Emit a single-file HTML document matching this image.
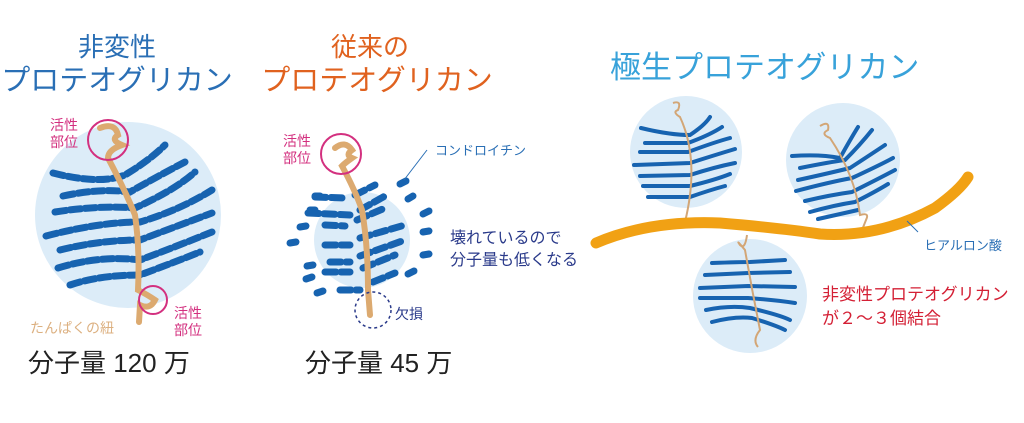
<!DOCTYPE html>
<html><head><meta charset="utf-8"><style>
html,body{margin:0;padding:0;background:#fff;}
svg{display:block;font-family:"Liberation Sans","Noto Sans CJK JP",sans-serif;}
</style></head><body>
<svg width="1024" height="423" viewBox="0 0 1024 423" xmlns="http://www.w3.org/2000/svg">
<!-- LEFT -->
<text x="117" y="56" font-size="26" fill="#2a6fb5" text-anchor="middle">非変性</text>
<text x="117" y="90" font-size="29" fill="#2a6fb5" text-anchor="middle">プロテオグリカン</text>
<circle cx="128" cy="215" r="93" fill="#dcecf8"/>
<g stroke="#1763b0" stroke-width="7" fill="none" stroke-linecap="round" stroke-dasharray="11 4">
<path d="M53 173 Q100 185 125 175 Q150 160 165 145"/>
<path d="M63 196 Q100 188 130 192 Q160 175 185 162"/>
<path d="M55 212 Q100 205 135 208 Q175 190 195 172"/>
<path d="M46 236 Q100 222 140 222 Q180 210 212 190"/>
<path d="M60 250 Q100 240 140 240 Q180 225 212 213"/>
<path d="M58 268 Q100 255 140 260 Q180 245 212 232"/>
<path d="M70 285 Q100 275 140 275 Q175 262 200 252"/>
</g>
<path d="M100 128 Q115 122 118 135 Q110 140 122 145 Q108 150 108 158 Q125 190 135 215 Q140 250 138 290 Q148 295 155 300 Q150 310 140 305 L139 322" stroke="#dcaa70" stroke-width="6" fill="none" stroke-linecap="round"/>
<circle cx="108" cy="140" r="20" fill="none" stroke="#d3307f" stroke-width="2"/>
<circle cx="153" cy="300" r="14" fill="none" stroke="#d3307f" stroke-width="2"/>
<text x="50" y="130" font-size="14" fill="#d3307f">活性</text>
<text x="50" y="147" font-size="14" fill="#d3307f">部位</text>
<text x="174" y="318" font-size="14" fill="#d3307f">活性</text>
<text x="174" y="335" font-size="14" fill="#d3307f">部位</text>
<text x="30" y="333" font-size="14" fill="#dcb080">たんぱくの紐</text>
<text x="28" y="372" font-size="26" fill="#222">分子量 120 万</text>

<!-- MIDDLE -->
<text x="370" y="56" font-size="26" fill="#e0621f" text-anchor="middle">従来の</text>
<text x="377" y="90" font-size="29" fill="#e0621f" text-anchor="middle">プロテオグリカン</text>
<circle cx="362" cy="240" r="48" fill="#dcecf8"/>
<g stroke="#1763b0" stroke-width="7" fill="none" stroke-linecap="round" stroke-dasharray="11 5">
<path d="M315 197 L345 198 M355 195 L375 185"/>
<path d="M308 213 L350 215 M360 210 L385 196"/>
<path d="M325 225 L345 226 M357 220 L385 208"/>
<path d="M325 245 L350 245 M360 238 L405 225"/>
<path d="M330 262 L350 262 M360 256 L405 240"/>
<path d="M325 272 L350 272 M363 268 L395 255"/>
<path d="M340 290 L360 290 M373 282 L395 273"/>
</g>
<g stroke="#1763b0" stroke-width="7" stroke-linecap="round">
<line x1="315" y1="196" x2="320" y2="196"/><line x1="310" y1="210" x2="315" y2="210"/>
<line x1="290" y1="243" x2="296" y2="242"/><line x1="300" y1="227" x2="306" y2="226"/>
<line x1="307" y1="266" x2="313" y2="265"/><line x1="306" y1="279" x2="312" y2="277"/>
<line x1="317" y1="293" x2="323" y2="291"/>
<line x1="400" y1="184" x2="406" y2="181"/><line x1="408" y1="199" x2="413" y2="196"/>
<line x1="423" y1="214" x2="429" y2="211"/><line x1="423" y1="232" x2="429" y2="231"/>
<line x1="423" y1="255" x2="429" y2="254"/><line x1="408" y1="274" x2="414" y2="271"/>
</g>
<path d="M335 148 Q345 140 352 150 Q345 155 352 158 Q345 163 342 166 Q355 190 362 210 Q368 245 368 290 L370 315" stroke="#dcaa70" stroke-width="6" fill="none" stroke-linecap="round"/>
<circle cx="341" cy="154" r="20" fill="none" stroke="#d3307f" stroke-width="2"/>
<circle cx="373" cy="310" r="18" fill="none" stroke="#2a3a8a" stroke-width="1.5" stroke-dasharray="3 3"/>
<text x="283" y="146" font-size="14" fill="#d3307f">活性</text>
<text x="283" y="163" font-size="14" fill="#d3307f">部位</text>
<line x1="427" y1="150" x2="404" y2="180" stroke="#2a6fb5" stroke-width="1"/>
<text x="435" y="155" font-size="13" fill="#2a6fb5">コンドロイチン</text>
<text x="450" y="243" font-size="16" fill="#2a3a8a">壊れているので</text>
<text x="450" y="265" font-size="16" fill="#2a3a8a">分子量も低くなる</text>
<text x="395" y="319" font-size="14" fill="#2a3a8a">欠損</text>
<text x="305" y="372" font-size="26" fill="#222">分子量 45 万</text>

<!-- RIGHT -->
<text x="610" y="78" font-size="31" fill="#38a2da">極生プロテオグリカン</text>
<circle cx="686" cy="152" r="56" fill="#dcecf8"/>
<circle cx="843" cy="160" r="57" fill="#dcecf8"/>
<circle cx="750" cy="296" r="57" fill="#dcecf8"/>
<g stroke="#1763b0" stroke-width="4" fill="none" stroke-linecap="round">
<path d="M641 128 Q670 135 690 135 Q705 125 710 117"/>
<path d="M645 143 L688 143 Q710 135 722 127"/>
<path d="M640 152 L688 152 Q715 142 730 138"/>
<path d="M634 165 L690 163 Q715 155 735 149"/>
<path d="M640 176 L690 175 Q715 167 735 163"/>
<path d="M643 186 L690 186 Q715 180 730 174"/>
<path d="M648 197 L690 197 Q710 190 725 186"/>
<path d="M792 156 Q820 154 840 158 Q850 140 858 127"/>
<path d="M800 168 Q830 162 845 160 Q860 145 872 130"/>
<path d="M798 180 Q830 173 850 168 Q870 155 885 145"/>
<path d="M796 191 Q830 182 852 178 Q880 165 893 158"/>
<path d="M805 201 Q830 195 852 192 Q880 178 895 170"/>
<path d="M810 212 Q835 205 855 202 Q875 192 888 184"/>
<path d="M818 219 Q840 214 858 210"/>
<path d="M712 263 Q740 262 750 262 L785 260"/>
<path d="M705 275 L748 273 L790 272"/>
<path d="M700 288 L748 286 L795 287"/>
<path d="M700 298 L748 298 Q775 300 795 303"/>
<path d="M706 310 Q730 305 750 308 Q780 315 790 320"/>
<path d="M712 322 Q735 316 752 318 Q775 325 785 330"/>
</g>
<g stroke="#d3a676" stroke-width="2" fill="none">
<path d="M673 103 Q682 100 678 110 Q672 112 680 117 Q700 160 685 222"/>
<path d="M820 126 Q830 120 828 130 Q820 134 830 138 Q855 175 860 215 Q870 212 866 220 L862 230"/>
<path d="M747 235 Q745 250 740 245 Q735 238 745 250 Q752 290 760 330 Q752 340 758 347"/>
</g>
<path d="M596 243 Q650 220 720 223 Q780 228 820 234 Q880 238 935 208 Q960 190 968 177" stroke="#f1a114" stroke-width="11" fill="none" stroke-linecap="round"/>
<line x1="918" y1="232" x2="907" y2="221" stroke="#2a6fb5" stroke-width="1"/>
<text x="924" y="250" font-size="13" fill="#2a6fb5">ヒアルロン酸</text>
<text x="822" y="300" font-size="17" fill="#d42035">非変性プロテオグリカン</text>
<text x="822" y="324" font-size="17" fill="#d42035">が２～３個結合</text>
</svg>
</body></html>
